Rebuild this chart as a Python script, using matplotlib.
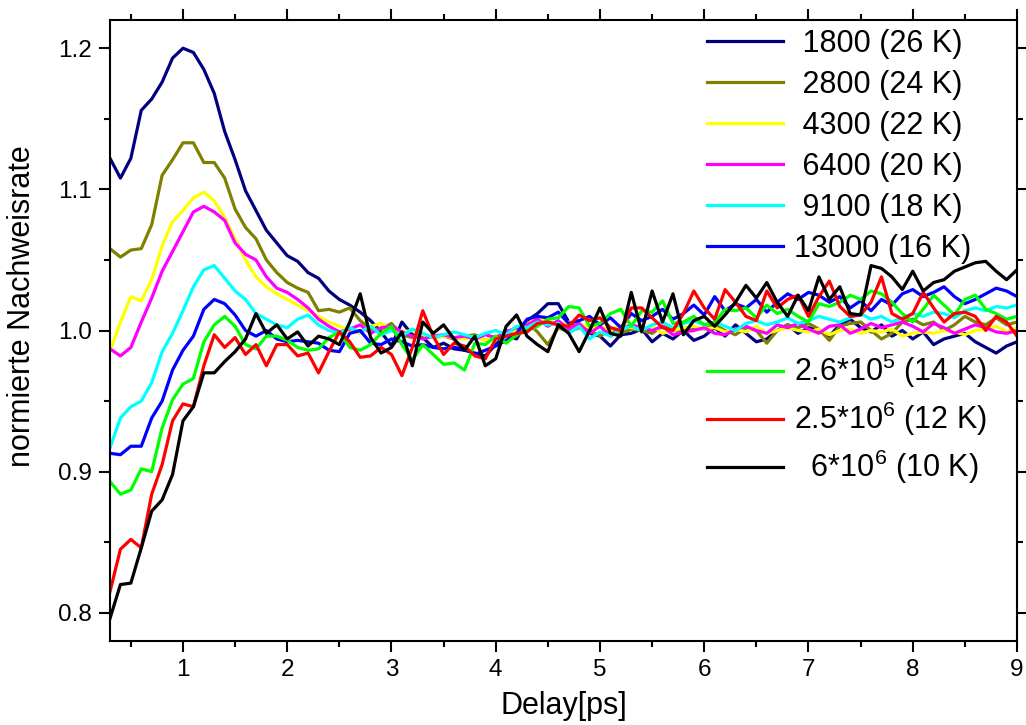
import numpy as np
import matplotlib
matplotlib.use("Agg")
import matplotlib.pyplot as plt
from matplotlib.ticker import MultipleLocator, FormatStrFormatter

plt.rcParams['font.family'] = ['Liberation Sans', 'DejaVu Sans']
plt.rcParams['mathtext.fontset'] = 'custom'
plt.rcParams['mathtext.rm'] = 'Liberation Sans'
plt.rcParams['mathtext.it'] = 'Liberation Sans:italic'

# delay grid in ps (0.3 ... 9.0, step 0.1)
delay = np.round(np.arange(0.3, 9.05, 0.1), 1)

rate_1800 = [
    1.122, 1.108, 1.122, 1.156, 1.164, 1.176, 1.193, 1.200, 1.197, 1.185,
    1.168, 1.141, 1.121, 1.099, 1.085, 1.071, 1.062, 1.053, 1.049, 1.041,
    1.037, 1.028, 1.022, 1.018, 1.013, 1.007, 0.999, 0.989, 1.006, 0.997,
    0.995, 0.988, 0.991, 0.987, 0.986, 0.984, 0.982, 0.990, 0.997, 0.994,
    1.007, 1.012, 1.019, 1.019, 1.006, 1.003, 0.998, 0.996, 0.989, 0.997,
    0.998, 1.001, 0.992, 0.998, 0.994, 1.000, 0.993, 0.996, 1.002, 0.996,
    1.004, 0.998, 0.992, 0.994, 1.000, 1.004, 0.998, 1.002, 1.000, 0.996,
    1.004, 1.008, 1.002, 0.999, 1.004, 0.996, 1.000, 0.994, 0.999, 0.990,
    0.994, 0.996, 0.998, 0.992, 0.988, 0.984, 0.989, 0.992]

rate_2800 = [
    1.058, 1.052, 1.057, 1.058, 1.075, 1.110, 1.121, 1.133, 1.133, 1.119,
    1.119, 1.108, 1.086, 1.073, 1.065, 1.050, 1.041, 1.034, 1.030, 1.027,
    1.014, 1.015, 1.013, 1.016, 1.007, 1.001, 1.001, 1.005, 0.997, 0.995,
    0.997, 0.995, 0.996, 0.994, 0.996, 0.997, 0.993, 0.995, 1.000, 0.996,
    1.006, 0.999, 0.990, 1.002, 0.999, 1.002, 1.000, 0.996, 1.001, 0.998,
    1.001, 1.000, 0.998, 1.003, 1.001, 0.999, 1.002, 1.001, 1.004, 1.000,
    0.997, 1.002, 1.000, 0.991, 1.000, 1.004, 1.002, 1.005, 1.001, 0.993,
    1.003, 1.005, 1.006, 1.000, 0.994, 0.998, 1.006, 1.008, 1.004, 1.006,
    1.000, 1.004, 1.010, 1.006, 1.004, 1.009, 1.004, 1.006]

rate_4300 = [
    0.985, 1.006, 1.024, 1.021, 1.036, 1.060, 1.077, 1.085, 1.094, 1.098,
    1.092, 1.080, 1.065, 1.050, 1.038, 1.031, 1.026, 1.022, 1.018, 1.014,
    1.010, 1.006, 1.003, 1.000, 0.998, 1.003, 1.005, 1.001, 0.999, 1.000,
    0.997, 0.995, 0.996, 0.995, 0.994, 0.996, 0.993, 0.996, 0.999, 1.000,
    1.004, 1.010, 1.007, 1.004, 1.006, 1.005, 1.002, 1.003, 1.000, 1.004,
    1.002, 1.001, 1.003, 0.998, 1.000, 1.002, 1.003, 1.001, 1.002, 0.999,
    1.001, 0.999, 1.003, 0.998, 1.000, 1.002, 1.000, 0.999, 1.001, 0.997,
    1.000, 1.001, 0.998, 1.000, 0.999, 1.001, 0.996, 0.998, 0.999, 0.998,
    1.000, 0.999, 0.997, 1.000, 1.001, 1.003, 0.999, 1.002]

rate_6400 = [
    0.987, 0.982, 0.988, 1.006, 1.023, 1.042, 1.056, 1.070, 1.084, 1.088,
    1.084, 1.078, 1.062, 1.054, 1.050, 1.038, 1.030, 1.027, 1.022, 1.016,
    1.008, 1.003, 0.999, 1.001, 1.004, 0.998, 1.002, 1.003, 0.999, 0.996,
    0.994, 0.996, 0.997, 0.995, 0.996, 0.994, 0.997, 0.995, 0.999, 1.002,
    1.004, 1.008, 1.003, 1.007, 1.001, 1.005, 0.998, 1.003, 0.996, 1.001,
    1.004, 1.002, 1.000, 1.003, 0.997, 0.999, 1.000, 1.002, 0.998, 0.997,
    1.001, 1.003, 1.000, 0.998, 1.004, 1.002, 1.005, 1.001, 0.998, 1.003,
    1.004, 0.998, 1.001, 1.005, 1.002, 1.004, 1.006, 1.003, 0.999, 1.005,
    1.002, 0.998, 1.001, 1.004, 1.002, 0.999, 0.998, 1.000]

rate_9100 = [
    0.917, 0.938, 0.946, 0.950, 0.963, 0.985, 0.998, 1.014, 1.031, 1.043,
    1.046, 1.037, 1.028, 1.022, 1.012, 1.008, 1.004, 1.002, 1.008, 1.011,
    1.004, 1.000, 0.998, 1.002, 0.999, 1.003, 0.997, 1.000, 0.996, 1.001,
    0.998, 0.995, 0.997, 0.999, 0.997, 0.995, 0.998, 1.000, 0.997, 1.003,
    1.002, 1.006, 1.004, 1.005, 0.998, 1.003, 0.994, 0.999, 0.996, 1.001,
    1.003, 1.000, 1.004, 1.006, 1.002, 1.005, 1.007, 1.004, 1.006, 1.003,
    1.000, 1.005, 1.007, 1.004, 1.006, 1.009, 1.005, 1.007, 1.010, 1.008,
    1.006, 1.009, 1.012, 1.008, 1.010, 1.006, 1.009, 1.012, 1.010, 1.013,
    1.012, 1.009, 1.014, 1.016, 1.014, 1.017, 1.016, 1.018]

rate_13000 = [
    0.913, 0.912, 0.918, 0.918, 0.938, 0.950, 0.972, 0.986, 0.996, 1.015,
    1.022, 1.019, 1.011, 1.000, 0.996, 1.000, 0.994, 0.992, 0.993, 0.992,
    0.991, 0.986, 0.985, 0.998, 1.000, 0.991, 0.990, 0.994, 0.992, 0.989,
    0.990, 0.988, 0.987, 0.988, 0.987, 0.983, 0.986, 0.989, 0.993, 0.998,
    1.008, 1.010, 1.009, 1.013, 1.005, 1.007, 1.010, 1.004, 1.009, 1.002,
    1.012, 1.007, 1.010, 1.015, 1.008, 1.012, 1.018, 1.011, 1.024, 1.014,
    1.019, 1.016, 1.022, 1.013, 1.020, 1.026, 1.022, 1.027, 1.025, 1.020,
    1.024, 1.016, 1.021, 1.014, 1.022, 1.018, 1.026, 1.029, 1.024, 1.027,
    1.031, 1.024, 1.019, 1.022, 1.026, 1.030, 1.028, 1.024]

rate_26e4 = [
    0.893, 0.884, 0.887, 0.902, 0.900, 0.931, 0.951, 0.962, 0.966, 0.992,
    1.004, 1.010, 1.003, 0.990, 0.987, 0.996, 0.996, 0.993, 0.988, 0.986,
    0.987, 0.995, 0.999, 0.988, 0.986, 0.990, 0.998, 1.003, 0.990, 0.979,
    0.990, 0.983, 0.976, 0.977, 0.972, 0.991, 0.990, 0.996, 0.991, 0.997,
    1.000, 1.003, 1.008, 1.009, 1.017, 1.016, 1.003, 1.005, 1.012, 1.015,
    1.003, 1.014, 1.013, 1.021, 1.005, 1.006, 1.010, 1.004, 1.006, 1.015,
    1.014, 1.016, 1.009, 1.018, 1.012, 1.015, 1.010, 1.006, 1.019, 1.017,
    1.020, 1.025, 1.022, 1.028, 1.026, 1.020, 1.012, 1.006, 1.015, 1.025,
    1.018, 1.011, 1.022, 1.025, 1.015, 1.012, 1.008, 1.010]

rate_25e5 = [
    0.815, 0.845, 0.852, 0.846, 0.884, 0.905, 0.936, 0.948, 0.946, 0.975,
    0.997, 0.988, 0.995, 0.983, 0.990, 0.975, 0.990, 0.990, 0.982, 0.984,
    0.970, 0.985, 0.999, 0.992, 0.981, 0.982, 0.988, 0.983, 0.968, 0.988,
    1.014, 0.996, 0.983, 0.991, 0.989, 0.982, 0.980, 0.994, 0.996, 0.998,
    0.999, 1.005, 1.006, 1.004, 1.003, 1.011, 1.007, 1.009, 1.002, 1.000,
    1.016, 1.016, 1.009, 1.002, 1.000, 1.012, 1.028, 1.016, 1.008, 1.029,
    1.020, 1.010, 1.007, 1.028, 1.016, 1.022, 1.025, 1.010, 1.024, 1.035,
    1.017, 1.010, 1.011, 1.020, 1.038, 1.012, 1.008, 1.012, 1.027, 1.016,
    1.006, 1.012, 1.013, 1.010, 1.000, 1.010, 1.006, 0.996]

rate_6e6 = [
    0.796, 0.820, 0.821, 0.846, 0.872, 0.880, 0.898, 0.936, 0.946, 0.970,
    0.970, 0.978, 0.985, 0.994, 1.012, 0.998, 1.004, 0.994, 0.999, 0.989,
    0.996, 0.994, 0.990, 1.006, 1.026, 0.995, 0.984, 0.988, 0.999, 0.975,
    1.006, 0.998, 1.004, 0.994, 0.986, 0.996, 0.975, 0.980, 1.003, 1.011,
    0.996, 0.990, 0.985, 1.004, 0.998, 0.985, 1.000, 1.016, 0.998, 0.996,
    1.027, 0.999, 1.028, 1.006, 1.026, 0.997, 1.007, 1.010, 1.003, 1.011,
    1.020, 1.032, 1.023, 1.034, 1.020, 1.010, 1.025, 1.014, 1.038, 1.022,
    1.031, 1.012, 1.011, 1.046, 1.044, 1.038, 1.029, 1.042, 1.028, 1.034,
    1.036, 1.042, 1.045, 1.048, 1.049, 1.042, 1.036, 1.043]

upper_labels = [" 1800 (26 K)", " 2800 (24 K)", " 4300 (22 K)",
                " 6400 (20 K)", " 9100 (18 K)", "13000 (16 K)"]
lower_labels = [r"2.6*10$^5$ (14 K)", r"2.5*10$^6$ (12 K)", r"  6*10$^6$ (10 K)"]

upper_series = [rate_1800, rate_2800, rate_4300, rate_6400, rate_9100, rate_13000]
lower_series = [rate_26e4, rate_25e5, rate_6e6]

upper_colors = ['#000080', '#808000', '#FFFF00', '#FF00FF', '#00FFFF', '#0000FF']
lower_colors = ['#00FF00', '#FF0000', '#000000']

fig = plt.figure(figsize=(10.26, 7.25), dpi=100)
ax = fig.add_axes([110 / 1026, 1 - 641 / 725, 907 / 1026, 621 / 725])

upper_lines = []
for vals, col, lab in zip(upper_series, upper_colors, upper_labels):
    ln, = ax.plot(delay, vals, color=col, lw=2.3, label=lab)
    upper_lines.append(ln)

lower_lines = []
for vals, col, lab in zip(lower_series, lower_colors, lower_labels):
    ln, = ax.plot(delay, vals, color=col, lw=2.3, label=lab)
    lower_lines.append(ln)

ax.set_xlim(0.3, 9.0)
ax.set_ylim(0.78, 1.22)

ax.xaxis.set_major_locator(MultipleLocator(1))
ax.xaxis.set_minor_locator(MultipleLocator(0.5))
ax.yaxis.set_major_locator(MultipleLocator(0.1))
ax.yaxis.set_minor_locator(MultipleLocator(0.05))
ax.yaxis.set_major_formatter(FormatStrFormatter('%.1f'))
ax.xaxis.set_major_formatter(FormatStrFormatter('%d'))

for sp in ax.spines.values():
    sp.set_linewidth(1.5)

ax.tick_params(which='both', direction='out', top=True, right=True,
               width=1.5, labelsize=17.5, pad=5)
ax.tick_params(which='major', length=8)
ax.tick_params(which='minor', length=4)

ax.set_xlabel('Delay[ps]', fontsize=22, labelpad=7)
ax.set_ylabel('normierte Nachweisrate', fontsize=22)
ax.yaxis.set_label_coords(-0.08, 0.54)

leg1 = ax.legend(handles=upper_lines, loc='upper left',
                 bbox_to_anchor=(707 / 1026, 1 - 29 / 725),
                 bbox_transform=fig.transFigure, frameon=False,
                 fontsize=22, handlelength=2.5, handletextpad=0.35,
                 labelspacing=0.36, borderpad=0, borderaxespad=0)
ax.add_artist(leg1)
ax.legend(handles=lower_lines, loc='upper left',
          bbox_to_anchor=(707 / 1026, 1 - 352 / 725),
          bbox_transform=fig.transFigure, frameon=False,
          fontsize=22, handlelength=2.5, handletextpad=0.35,
          labelspacing=0.32, borderpad=0, borderaxespad=0)

fig.savefig('out.png', dpi=100)
